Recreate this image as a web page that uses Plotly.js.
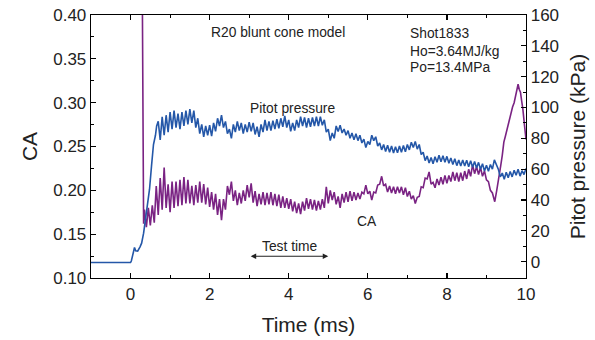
<!DOCTYPE html>
<html>
<head>
<meta charset="utf-8">
<script src="https://cdn.plot.ly/plotly-3.0.1.min.js"></script>
<style>html,body{margin:0;padding:0;background:#fff;}#chart{width:595px;height:340px;}</style>
</head>
<body>
<div id="chart"></div>
<script>
// ---- Pitot pressure (kPa), right axis ----
var pitotTime = [-1.00,-0.50,0.00,0.02,0.06,0.10,0.13,0.18,0.24,0.28,0.33,0.40,0.48,0.53,0.58,0.63,0.66,
0.70,0.75,0.80,0.85,0.90,0.95,1.00,1.05,1.10,1.15,1.20,1.25,1.30,1.35,1.40,1.45,1.50,1.55,1.60,1.65,1.70,1.75,1.80,1.85,1.90,1.95,
2.00,2.05,2.10,2.15,2.20,2.25,2.30,2.35,2.40,2.45,2.50,2.55,2.60,2.65,2.70,2.75,2.80,2.85,2.90,2.95,
3.00,3.05,3.10,3.15,3.20,3.25,3.30,3.35,3.40,3.45,3.50,3.55,3.60,3.65,3.70,3.75,3.80,3.85,3.90,3.95,
4.00,4.05,4.10,4.15,4.20,4.25,4.30,4.35,4.40,4.45,4.50,4.55,4.60,4.65,4.70,4.75,4.80,4.85,4.90,4.95,
5.00,5.05,5.10,5.15,5.20,5.25,5.30,5.35,5.40,5.45,5.50,5.55,5.60,5.65,5.70,5.75,5.80,5.85,5.90,5.95,
6.00,6.05,6.10,6.15,6.20,6.25,6.30,6.35,6.40,6.45,6.50,6.55,6.60,6.65,6.70,6.75,6.80,6.85,6.90,6.95,
7.00,7.05,7.10,7.15,7.20,7.25,7.30,7.35,7.40,7.45,7.50,7.55,7.60,7.65,7.70,7.75,7.80,7.85,7.90,7.95,
8.00,8.05,8.10,8.15,8.20,8.25,8.30,8.35,8.40,8.45,8.50,8.55,8.60,8.65,8.70,8.75,8.80,8.85,8.90,8.95,
9.00,9.05,9.10,9.15,9.20,9.25,9.30,9.35,9.40,9.45,9.50,9.55,9.60,9.65,9.70,9.75,9.80,9.85,9.90,9.95,10.00];
var pitotKPa = [-0.5,-0.3,-0.5,0.4,5,9.2,7,6.8,9.6,12,18.5,32,47,62,76,82,88,
91,79,94,82,95,84,97,86,98,87,96,86,97,88,98,89,99,90,98,87,93,83,89,81,88,82,
88.5,81.5,90,84.5,93,88,95,87,91,83,86,80,89,84,91,85,90,83,89,84,
90.5,84.5,90,82.5,87.5,81,89,84,92,85,91,85,91.5,86,92.5,86.5,93,87.5,94.5,87,
92,84.5,90,85,92,87,94,88,93.5,87,93,87.5,93.5,88,94,88,94,88.5,92,84,
86,78.5,83.5,80,88,84.5,88.5,83.5,86,82,85,80,83.5,79,83,78.5,82,77,79.5,74,
78,76,82,78.5,81,75,77,72.5,76,71.5,75.5,71,75,70.5,74.5,70.7,75,71,75.3,71.3,
76,72.5,77.5,74,78,73,76,69.5,71,65.5,68.5,64,67.5,63.5,68,64.5,69,64.8,68.7,64.5,
68.3,63.8,67.2,63,66.7,62.3,66,62,66,62,65.8,61.6,65.4,61.3,65,60.8,64.4,60,63.5,58.8,
62.5,58.7,63,60,66,63,60,55,57.5,53.5,58,54.5,58.5,55,59.3,56,60,55.5,59,56.5,60.5];

// ---- CA, left axis ----
var caTime = [0.27,0.33,0.35,0.40,0.45,0.50,0.55,0.60,0.65,0.70,0.75,0.80,0.85,0.90,0.95,
1.00,1.05,1.10,1.15,1.20,1.25,1.30,1.35,1.40,1.45,1.50,1.55,1.60,1.65,1.70,1.75,1.80,1.85,1.90,1.95,
2.00,2.05,2.10,2.15,2.20,2.25,2.30,2.35,2.40,2.45,2.50,2.55,2.60,2.65,2.70,2.75,2.80,2.85,2.90,2.95,
3.00,3.05,3.10,3.15,3.20,3.25,3.30,3.35,3.40,3.45,3.50,3.55,3.60,3.65,3.70,3.75,3.80,3.85,3.90,3.95,
4.00,4.05,4.10,4.15,4.20,4.25,4.30,4.35,4.40,4.45,4.50,4.55,4.60,4.65,4.70,4.75,4.80,4.85,4.90,4.95,
5.00,5.05,5.10,5.15,5.20,5.25,5.30,5.35,5.40,5.45,5.50,5.55,5.60,5.65,5.70,5.75,5.80,5.85,5.90,5.95,
6.00,6.05,6.10,6.15,6.20,6.25,6.30,6.35,6.40,6.45,6.50,6.55,6.60,6.65,6.70,6.75,6.80,6.85,6.90,6.95,
7.00,7.05,7.10,7.15,7.20,7.25,7.30,7.35,7.40,7.45,7.50,7.55,7.60,7.65,7.70,7.75,7.80,7.85,7.90,7.95,
8.00,8.05,8.10,8.15,8.20,8.25,8.30,8.35,8.40,8.45,8.50,8.55,8.60,8.65,8.70,8.75,8.80,8.85,8.90,8.95,
9.00,9.05,9.10,9.15,9.21,9.26,9.32,9.36,9.40,9.44,9.48,9.52,9.57,9.62,9.66,9.70,9.74,9.78,9.80,9.83,9.86,9.89,9.92,9.96,10.00];
var caValue = [0.65,0.162,0.178,0.158,0.18,0.16,0.183,0.163,0.205,0.172,0.214,0.178,0.226,0.18,0.207,
0.175,0.21,0.18,0.21,0.182,0.212,0.183,0.215,0.185,0.212,0.185,0.205,0.183,0.206,0.186,0.21,0.186,0.207,0.184,0.203,
0.181,0.198,0.178,0.196,0.172,0.19,0.166,0.19,0.178,0.205,0.195,0.21,0.188,0.2,0.183,0.197,0.185,0.2,0.188,0.206,
0.192,0.208,0.186,0.199,0.182,0.196,0.184,0.198,0.183,0.197,0.184,0.198,0.183,0.196,0.182,0.195,0.18,0.193,0.18,0.191,
0.179,0.19,0.176,0.187,0.174,0.185,0.173,0.187,0.177,0.191,0.179,0.19,0.178,0.189,0.177,0.188,0.178,0.19,0.18,0.204,
0.185,0.2,0.189,0.198,0.184,0.193,0.18,0.196,0.186,0.198,0.187,0.199,0.188,0.198,0.189,0.197,0.19,0.198,0.196,0.206,
0.196,0.199,0.189,0.198,0.197,0.206,0.207,0.216,0.205,0.207,0.198,0.205,0.197,0.204,0.196,0.204,0.197,0.204,0.195,0.203,
0.193,0.199,0.19,0.194,0.185,0.192,0.193,0.204,0.203,0.214,0.213,0.221,0.207,0.209,0.203,0.213,0.206,0.215,0.207,0.217,
0.208,0.217,0.21,0.221,0.211,0.22,0.21,0.22,0.211,0.222,0.213,0.224,0.216,0.229,0.219,0.227,0.218,0.226,0.216,0.222,
0.212,0.21,0.2,0.197,0.187,0.2,0.215,0.228,0.24,0.255,0.262,0.27,0.28,0.288,0.295,0.3,0.31,0.316,0.321,0.315,0.312,0.302,0.293,0.275,0.258];

// ---- axis ticks ----
var timeTicks = [0,2,4,6,8,10];
var caTicks = [0.10,0.15,0.20,0.25,0.30,0.35,0.40];
var caTickText = ['0.10','0.15','0.20','0.25','0.30','0.35','0.40'];
var kpaTicks = [0,20,40,60,80,100,120,140,160];

var blue = '#2457a8', purple = '#7a2383';
var FONT = 'Liberation Sans, Arial, sans-serif';

var traces = [
  {x: pitotTime, y: pitotKPa, type: 'scatter', mode: 'lines', yaxis: 'y2',
   line: {color: blue, width: 1.6}, hoverinfo: 'skip'},
  {x: caTime, y: caValue, type: 'scatter', mode: 'lines', yaxis: 'y',
   line: {color: purple, width: 1.6}, hoverinfo: 'skip'}
];

var axisCommon = {
  showline: true, linecolor: '#000', linewidth: 1.3, ticks: 'inside', ticklen: 5,
  tickwidth: 1.2, tickcolor: '#000', showgrid: false, zeroline: false,
  tickfont: {family: FONT, size: 17, color: '#222'}
};

var layout = {
  width: 595, height: 340,
  margin: {l: 91, r: 69, t: 15, b: 62},
  paper_bgcolor: '#fff', plot_bgcolor: '#fff',
  showlegend: false,
  font: {family: FONT, color: '#222'},
  xaxis: Object.assign({}, axisCommon, {
    range: [-1, 10], tickvals: timeTicks, mirror: 'ticks',
    minor: {dtick: 1, tick0: 0, ticks: 'inside', ticklen: 3, tickcolor: '#000', tickwidth: 1},
    title: {text: 'Time (ms)', font: {family: FONT, size: 21, color: '#222'}, standoff: 14}
  }),
  yaxis: Object.assign({}, axisCommon, {
    range: [0.10, 0.40], tickvals: caTicks, ticktext: caTickText,
    minor: {dtick: 0.025, tick0: 0, ticks: 'inside', ticklen: 3, tickcolor: '#000', tickwidth: 1},
    title: {text: 'CA', font: {family: FONT, size: 21, color: '#222'}, standoff: 10}
  }),
  yaxis2: Object.assign({}, axisCommon, {
    range: [-10.6, 160], tickvals: kpaTicks, overlaying: 'y', side: 'right',
    minor: {dtick: 10, tick0: 0, ticks: 'inside', ticklen: 3, tickcolor: '#000', tickwidth: 1},
    title: {text: 'Pitot pressure (kPa)', font: {family: FONT, size: 21, color: '#222'}, standoff: 12}
  }),
  annotations: [
    {xref: 'x', yref: 'y', x: 3.73, y: 0.3806, text: 'R20 blunt cone model', showarrow: false,
     xanchor: 'center', yanchor: 'middle', font: {family: FONT, size: 13.8, color: '#222'}},
    {xref: 'x', yref: 'y', x: 7.02, y: 0.3791, text: 'Shot1833', showarrow: false,
     xanchor: 'left', yanchor: 'middle', font: {family: FONT, size: 13.8, color: '#222'}},
    {xref: 'x', yref: 'y', x: 7.02, y: 0.3581, text: 'Ho=3.64MJ/kg', showarrow: false,
     xanchor: 'left', yanchor: 'middle', font: {family: FONT, size: 13.8, color: '#222'}},
    {xref: 'x', yref: 'y', x: 7.02, y: 0.3398, text: 'Po=13.4MPa', showarrow: false,
     xanchor: 'left', yanchor: 'middle', font: {family: FONT, size: 13.8, color: '#222'}},
    {xref: 'x', yref: 'y', x: 4.09, y: 0.2935, text: 'Pitot pressure', showarrow: false,
     xanchor: 'center', yanchor: 'middle', font: {family: FONT, size: 13.8, color: '#222'}},
    {xref: 'x', yref: 'y', x: 5.97, y: 0.1647, text: 'CA', showarrow: false,
     xanchor: 'center', yanchor: 'middle', font: {family: FONT, size: 13.8, color: '#222'}},
    {xref: 'x', yref: 'y', x: 4.03, y: 0.1362, text: 'Test time', showarrow: false,
     xanchor: 'center', yanchor: 'middle', font: {family: FONT, size: 13.8, color: '#222'}},
    {xref: 'x', yref: 'y', axref: 'x', ayref: 'y', x: 5, y: 0.1248, ax: 3, ay: 0.1248,
     text: '', showarrow: true, arrowhead: 2, arrowside: 'end+start', arrowsize: 1,
     arrowwidth: 1.1, arrowcolor: '#222', standoff: 0, startstandoff: 0}
  ]
};

Plotly.newPlot('chart', traces, layout, {displayModeBar: false, staticPlot: true});
</script>
</body>
</html>
